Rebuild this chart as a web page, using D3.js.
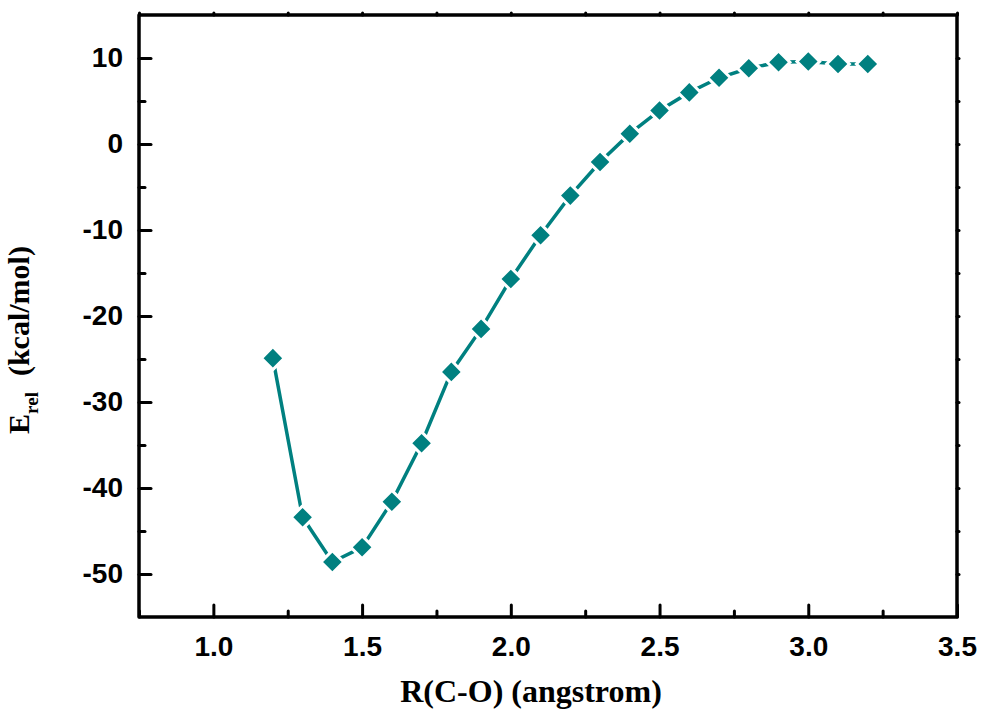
<!DOCTYPE html>
<meta charset="utf-8">
<head>
  <title>Relative energy vs R(C-O)</title>
</head>

<style>
body {
  margin: 0;
  background: #fff;
}

.tick text {
  font-family: Arial, "Liberation Sans", sans-serif;
  font-weight: bold;
  font-size: 28px;
  fill: #000;
}

.tick line {
  stroke: #000;
  stroke-width: 3px;
  stroke-linecap: round;
}

.frame {
  fill: none;
  stroke: #000;
  stroke-width: 3.5px;
  stroke-linejoin: round;
}

.title {
  font-family: "Times New Roman", "Liberation Serif", serif;
  font-weight: bold;
  fill: #000;
}

.curve {
  fill: none;
  stroke: #008080;
  stroke-width: 3.5px;
}

.marker {
  fill: #008080;
  stroke: #fff;
  stroke-width: 3px;
}
</style>

<body>
  <svg width="984" height="716"></svg>

  <script src="https://cdnjs.cloudflare.com/ajax/libs/d3/7.8.5/d3.min.js"></script>

  <script>
// distance (angstrom) and relative energy (kcal/mol)
var distance = [1.2, 1.3, 1.4, 1.5, 1.6, 1.7, 1.8, 1.9, 2.0, 2.1, 2.2,
                2.3, 2.4, 2.5, 2.6, 2.7, 2.8, 2.9, 3.0, 3.1, 3.2];
var energy = [-24.9, -43.4, -48.6, -46.9, -41.6, -34.8, -26.5, -21.5, -15.7, -10.6, -6.0,
              -2.1, 1.2, 3.9, 6.0, 7.7, 8.8, 9.5, 9.6, 9.3, 9.3];

var xMajor = [1.0, 1.5, 2.0, 2.5, 3.0, 3.5];
var xMinor = [0.75, 1.25, 1.75, 2.25, 2.75, 3.25];
var yMajor = [-50, -40, -30, -20, -10, 0, 10];
var yMinor = [-45, -35, -25, -15, -5, 5];

var svg = d3.select('svg');
var plotL = 139, plotR = 957, plotT = 15, plotB = 617;

var x = d3.scaleLinear().domain([0.75, 3.5]).range([plotL, plotR]);
var y = d3.scaleLinear().domain([-55, 15]).range([plotB, plotT]);

function noDomain(g) { g.select('.domain').remove(); }

// bottom axis (ticks point inwards)
svg.append('g')
  .attr('transform', 'translate(0,' + plotB + ')')
  .call(d3.axisBottom(x).tickValues(xMajor).tickSize(-12).tickPadding(19)
    .tickFormat(function(d) { return d.toFixed(1); }))
  .call(noDomain);

svg.append('g')
  .attr('transform', 'translate(0,' + plotB + ')')
  .call(d3.axisBottom(x).tickValues(xMinor).tickSize(-6).tickFormat(''))
  .call(noDomain);

// left axis, plain hyphen for negatives like the original
svg.append('g')
  .attr('transform', 'translate(' + plotL + ',0)')
  .call(d3.axisLeft(y).tickValues(yMajor).tickSize(-12).tickPadding(16)
    .tickFormat(function(d) { return String(d); }))
  .call(noDomain);

svg.append('g')
  .attr('transform', 'translate(' + plotL + ',0)')
  .call(d3.axisLeft(y).tickValues(yMinor).tickSize(-6).tickFormat(''))
  .call(noDomain);

// tiny outside ticks on top and right
svg.append('g')
  .attr('transform', 'translate(0,' + plotT + ')')
  .call(d3.axisTop(x).tickValues(xMajor.concat(xMinor)).tickSize(2).tickFormat(''))
  .call(noDomain);

svg.append('g')
  .attr('transform', 'translate(' + plotR + ',0)')
  .call(d3.axisRight(y).tickValues(yMajor.concat(yMinor)).tickSize(2).tickFormat(''))
  .call(noDomain);

svg.append('rect')
  .attr('class', 'frame')
  .attr('x', plotL)
  .attr('y', plotT)
  .attr('width', plotR - plotL)
  .attr('height', plotB - plotT);

// data line + diamond markers
var pts = distance.map(function(d, i) { return [d, energy[i]]; });

svg.append('path')
  .datum(pts)
  .attr('class', 'curve')
  .attr('d', d3.line()
    .x(function(d) { return x(d[0]); })
    .y(function(d) { return y(d[1]); }));

var diamond = d3.symbol().type(d3.symbolSquare).size(260);

svg.selectAll('.marker')
  .data(pts)
  .enter()
  .append('path')
  .attr('class', 'marker')
  .attr('d', diamond)
  .attr('transform', function(d) {
    return 'translate(' + x(d[0]) + ',' + y(d[1]) + ') rotate(45)';
  });

// axis titles
svg.append('text')
  .attr('class', 'title')
  .attr('x', 531)
  .attr('y', 702)
  .attr('text-anchor', 'middle')
  .style('font-size', '32px')
  .text('R(C-O) (angstrom)');

var yt = svg.append('text')
  .attr('class', 'title')
  .attr('transform', 'translate(29,340) rotate(-90)')
  .attr('text-anchor', 'middle')
  .style('font-size', '30px');
yt.append('tspan').text('E');
yt.append('tspan').attr('dy', 9).style('font-size', '19px').text('rel');
yt.append('tspan').attr('dy', -9).attr('dx', 16).text('(kcal/mol)');
  </script>
</body>
</html>
